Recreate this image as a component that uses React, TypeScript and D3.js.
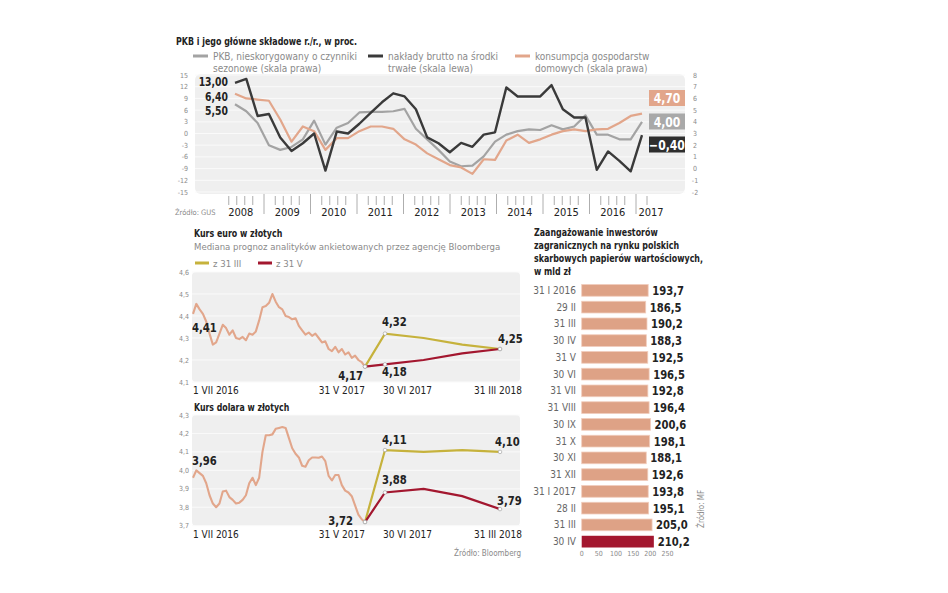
import * as d3 from 'd3';
import type { ReactNode } from 'react';

const FONT = "'Liberation Sans Narrow', 'DejaVu Sans Condensed', Roboto, sans-serif";

// PKB i składowe, kwartalnie od I kw. 2008 do I kw. 2017
const years = [2008, 2009, 2010, 2011, 2012, 2013, 2014, 2015, 2016, 2017];
const investment = [13.0, 14.0, 4.5, 5.0, -1.0, -4.5, -2.5, 0.0, -9.5, 0.5, 0.0, 2.5, 5.3, 8.0, 10.3, 9.5, 6.2, -1.0,
  -2.5, -4.8, -2.4, -3.4, -0.3, 0.3, 11.8, 9.5, 9.5, 9.5, 12.4, 6.2, 4.1, 4.1, -9.3, -4.6, -7.0, -9.7, -0.4];
const gdp = [5.5, 4.9, 3.9, 2.0, 1.6, 1.85, 2.5, 4.1, 2.05, 3.5, 3.9, 4.8, 4.85, 4.85, 4.9, 5.1, 3.4, 2.5,
  1.6, 0.6, 0.2, 0.25, 1.05, 2.3, 2.9, 3.2, 3.35, 3.3, 3.7, 3.35, 3.6, 4.55, 2.9, 2.9, 2.5, 2.5, 4.0];
const consumption = [6.4, 6.0, 5.9, 5.8, 4.2, 2.3, 3.6, 3.2, 1.6, 2.6, 2.6, 3.2, 3.6, 3.6, 3.4, 2.5, 2.05, 1.3,
  0.8, 0.3, 0.1, -0.45, 0.8, 0.75, 2.4, 2.9, 2.2, 2.5, 2.9, 3.2, 3.35, 3.2, 3.35, 3.4, 3.9, 4.5, 4.7];
const leftTicks = [-15, -12, -9, -6, -3, 0, 3, 6, 9, 12, 15];
const rightTicks = [-2, -1, 0, 1, 2, 3, 4, 5, 6, 7, 8];

// kursy walut, 1 VII 2016 - 31 V 2017 (równe odstępy)
const eurHistory = [4.41, 4.455, 4.43, 4.41, 4.375, 4.32, 4.27, 4.28, 4.32, 4.36, 4.345, 4.315, 4.335, 4.30, 4.295,
  4.305, 4.29, 4.32, 4.315, 4.33, 4.38, 4.44, 4.445, 4.46, 4.50, 4.465, 4.44, 4.43, 4.40, 4.395, 4.385, 4.39,
  4.355, 4.335, 4.315, 4.325, 4.31, 4.32, 4.30, 4.28, 4.285, 4.25, 4.24, 4.26, 4.235, 4.25, 4.225, 4.235, 4.21,
  4.22, 4.20, 4.19, 4.17];
const usdHistory = [3.96, 4.00, 3.985, 3.97, 3.93, 3.865, 3.82, 3.80, 3.82, 3.885, 3.89, 3.855, 3.84, 3.82, 3.825,
  3.84, 3.865, 3.93, 3.96, 3.92, 3.96, 4.10, 4.19, 4.19, 4.195, 4.225, 4.23, 4.235, 4.23, 4.175, 4.12, 4.09,
  4.07, 4.025, 4.02, 4.055, 4.07, 4.07, 4.068, 4.075, 4.05, 3.97, 3.945, 3.975, 3.975, 3.92, 3.89, 3.88, 3.86,
  3.81, 3.76, 3.735, 3.72];
const forecastDates = ['2017-05-31', '2017-06-30', '2017-09-30', '2017-12-31', '2018-03-31'];
const eurMarch = [4.17, 4.32, 4.30, 4.27, 4.25];
const eurMay = [4.17, 4.18, 4.20, 4.23, 4.25];
const usdMarch = [3.72, 4.11, 4.10, 4.11, 4.10];
const usdMay = [3.72, 3.88, 3.90, 3.86, 3.79];
const axisDates = ['2016-07-01', '2017-05-31', '2017-06-30', '2018-03-31'];
const axisLabels = ['1 VII 2016', '31 V 2017', '30 VI 2017', '31 III 2018'];
const eurTicks = [4.1, 4.2, 4.3, 4.4, 4.5, 4.6];
const usdTicks = [3.7, 3.8, 3.9, 4.0, 4.1, 4.2, 4.3];

// zaangażowanie inwestorów zagranicznych, mld zł
const debtDates = ['31 I 2016', '29 II', '31 III', '30 IV', '31 V', '30 VI', '31 VII', '31 VIII', '30 IX', '31 X',
  '30 XI', '31 XII', '31 I 2017', '28 II', '31 III ', '30 IV '];
const debtValues = [193.7, 186.5, 190.2, 188.3, 192.5, 196.5, 192.8, 196.4, 200.6, 198.1, 188.1, 192.6, 193.8, 195.1,
  205.0, 210.2];
const debtTicks = [0, 50, 100, 150, 200, 250];

const C = {
  dark: '#3a3a3a',
  gray: '#a3a3a3',
  salmon: '#e2a68b',
  olive: '#c6b23c',
  red: '#a3172f',
  bg: '#efefef',
  text: '#222',
  muted: '#8a8a8a',
};

const parse = d3.timeParse('%Y-%m-%d');
const comma = (f: string) => (v: number) => d3.format(f)(v).replace('.', ',');
const f1 = comma('.1f');
const f2 = comma('.2f');

// wąski tekst (krój w oryginale jest zwężony)
function Txt(p: { x: number; y: number; sx?: number; size: number; bold?: boolean; fill?: string; anchor?: string; children: ReactNode }) {
  return (
    <text transform={`translate(${p.x},${p.y}) scale(${p.sx ?? 0.86},1)`} textAnchor={p.anchor ?? 'start'}
      fontSize={p.size} fontWeight={p.bold ? 'bold' : 'normal'} fill={p.fill ?? C.text}>{p.children}</text>
  );
}

const tx = d3.scaleTime()
  .domain(axisDates.map(d => parse(d)!))
  .range([193, 365, 385, 500]);
const histTime = (n: number) => d3.scaleLinear().domain([0, n - 1]).range([+parse(axisDates[0])!, +parse(axisDates[1])!]);

type Lbl = { v: number; idx: number; dx: number; dy: number; anchor: string };

function FxPanel(props: {
  top: number; bottom: number; ticks: number[]; history: number[]; march: number[]; may: number[];
  histDy: number; labels: Lbl[];
}) {
  const { top, bottom, ticks, history, march, may } = props;
  const y = d3.scaleLinear().domain([ticks[0], ticks[ticks.length - 1]]).range([bottom, top]);
  const ht = histTime(history.length);
  const histLine = d3.line<number>().x((_, i) => tx(new Date(ht(i)))).y(d => y(d));
  const fLine = d3.line<number>().x((_, i) => tx(parse(forecastDates[i])!)).y(d => y(d));
  return (
    <g>
      <rect x={192} y={top} width={328} height={bottom - top} rx={4} fill={C.bg} />
      {ticks.map(t => (
        <g key={t}>
          <line x1={192} x2={520} y1={y(t)} y2={y(t)} stroke="#fafafa" strokeWidth={1} />
          <text x={189} y={y(t) + 2.5} textAnchor="end" fontSize={7} fill={C.muted}>{f1(t)}</text>
        </g>
      ))}
      <path d={histLine(history)!} fill="none" stroke={C.salmon} strokeWidth={2.1} strokeLinejoin="round" />
      <path d={fLine(march)!} fill="none" stroke={C.olive} strokeWidth={2.2} />
      <path d={fLine(may)!} fill="none" stroke={C.red} strokeWidth={2.2} />
      {[...march, ...may].map((v, i) => (
        [0, 1, 4].includes(i % 5) ? (
          <circle key={i} cx={tx(parse(forecastDates[i % 5])!)} cy={y(v)} r={1.8} fill="#fff" stroke="#999" strokeWidth={0.6} />
        ) : null
      ))}
      <Txt x={tx(parse(axisDates[0])!) - 1} y={y(history[0]) + props.histDy} size={13} bold>{f2(history[0])}</Txt>
      {props.labels.map((l, i) => (
        <Txt key={i} x={tx(parse(forecastDates[l.idx])!) + l.dx} y={y(l.v) + l.dy} anchor={l.anchor} size={13} bold>
          {f2(l.v)}
        </Txt>
      ))}
      {axisLabels.map((s, i) => (
        <text key={s} x={tx(parse(axisDates[i])!) + (i === 3 ? 22 : i === 2 ? -2 : 0)} y={bottom + 12}
          textAnchor={i === 0 || i === 2 ? 'start' : 'end'} fontSize={10} fill={C.text}>{s}</text>
      ))}
    </g>
  );
}

export default function App() {
  // górny wykres
  const xQ = d3.scaleLinear().domain([0, investment.length - 1]).range([235, 642]);
  const xYear = d3.scaleLinear().domain([2008, 2017]).range([217.5, 636]);
  const yL = d3.scaleLinear().domain([-15, 15]).range([192, 75]);
  const yR = d3.scaleLinear().domain([-2, 8]).range([192, 75]);
  const lineL = d3.line<number>().x((_, i) => xQ(i)).y(d => yL(d));
  const lineR = d3.line<number>().x((_, i) => xQ(i)).y(d => yR(d));

  // słupki
  const yB = d3.scaleBand().domain(debtDates).range([284.5, 547.5]).paddingInner(0.3);
  const xB = d3.scaleLinear().domain([0, 250]).range([581.7, 667.5]);

  const endBoxes = [
    { v: consumption[consumption.length - 1], fill: C.salmon, y: 90 },
    { v: gdp[gdp.length - 1], fill: '#a9a9a9', y: 113.5 },
    { v: investment[investment.length - 1], fill: '#2e2e2e', y: 136.5 },
  ];

  return (
    <svg width={948} height={593} style={{ position: 'absolute', left: 0, top: 0, background: '#fff' }}
      fontFamily={FONT}>
      {/* PKB */}
      <Txt x={176} y={45} size={10.5} sx={0.84} bold>PKB i jego główne składowe r./r., w proc.</Txt>
      {[
        { c: C.gray, x: 193, l1: 'PKB, nieskorygowany o czynniki', l2: 'sezonowe (skala prawa)' },
        { c: C.dark, x: 368, l1: 'nakłady brutto na środki', l2: 'trwałe (skala lewa)' },
        { c: C.salmon, x: 515, l1: 'konsumpcja gospodarstw', l2: 'domowych (skala prawa)' },
      ].map(d => (
        <g key={d.l1}>
          <line x1={d.x} x2={d.x + 15} y1={56} y2={56} stroke={d.c} strokeWidth={3} />
          <text x={d.x + 20} y={59.5} fontSize={10} fill={C.muted}>{d.l1}</text>
          <text x={d.x + 20} y={71.5} fontSize={10} fill={C.muted}>{d.l2}</text>
        </g>
      ))}
      <rect x={195} y={74} width={490} height={120} rx={6} fill={C.bg} />
      {leftTicks.map(t => (
        <g key={t}>
          <line x1={195} x2={685} y1={yL(t)} y2={yL(t)} stroke="#fafafa" strokeWidth={1} />
          <text x={188} y={yL(t) + 2.5} textAnchor="end" fontSize={7} fill={C.muted}>{t}</text>
        </g>
      ))}
      {rightTicks.map(t => (
        <text key={t} x={695} y={yR(t) + 2.5} textAnchor="middle" fontSize={7} fill={C.muted}>{t}</text>
      ))}
      <path d={lineR(gdp)!} fill="none" stroke={C.gray} strokeWidth={2.2} strokeLinejoin="round" />
      <path d={lineR(consumption)!} fill="none" stroke={C.salmon} strokeWidth={2.2} strokeLinejoin="round" />
      <path d={lineL(investment)!} fill="none" stroke={C.dark} strokeWidth={2.4} strokeLinejoin="round" />
      <Txt x={xQ(0) - 7} y={yL(investment[0]) + 3.5} anchor="end" size={12} bold>{f2(investment[0])}</Txt>
      <Txt x={xQ(0) - 7} y={yR(consumption[0]) + 7} anchor="end" size={12} bold>{f2(consumption[0])}</Txt>
      <Txt x={xQ(0) - 7} y={yR(gdp[0]) + 11} anchor="end" size={12} bold>{f2(gdp[0])}</Txt>
      {endBoxes.map(b => (
        <g key={b.fill}>
          <rect x={649} y={b.y} width={36} height={16} fill={b.fill} />
          <Txt x={667} y={b.y + 13} anchor="middle" size={14} bold fill="#fff">{f2(b.v)}</Txt>
        </g>
      ))}
      {years.map(yr => (
        <g key={yr}>
          {yr > 2008 && <line x1={xYear(yr)} x2={xYear(yr)} y1={194} y2={214} stroke="#999" strokeWidth={0.8} />}
          {(yr < 2017 ? [-12, -4, 4, 12] : [11]).map(o => {
            const cx = yr < 2017 ? xYear(yr + 0.5) : xYear(yr);
            return <line key={o} x1={cx + o} x2={cx + o} y1={196} y2={205} stroke="#999" strokeWidth={0.8} />;
          })}
          <text x={yr < 2017 ? xYear(yr + 0.5) : xYear(yr) + 15} y={216} textAnchor="middle" fontSize={11} fill={C.text}>{yr}</text>
        </g>
      ))}
      <text x={175} y={215} fontSize={7.5} fill={C.muted}>Źródło: GUS</text>

      {/* Kurs euro */}
      <Txt x={194} y={237} size={10} sx={0.88} bold>Kurs euro w złotych</Txt>
      <text x={194} y={250} fontSize={9.5} fill={C.muted}>Mediana prognoz analityków ankietowanych przez agencję Bloomberga</text>
      <line x1={195} x2={209} y1={263} y2={263} stroke={C.olive} strokeWidth={3} />
      <text x={213} y={266.5} fontSize={9.5} fill={C.muted}>z 31 III</text>
      <line x1={258} x2={272} y1={263} y2={263} stroke={C.red} strokeWidth={3} />
      <text x={276} y={266.5} fontSize={9.5} fill={C.muted}>z 31 V</text>
      <FxPanel top={272} bottom={382} ticks={eurTicks} history={eurHistory} march={eurMarch} may={eurMay}
        histDy={18}
        labels={[
          { v: eurMarch[0], idx: 0, dx: -2, dy: 13, anchor: 'end' },
          { v: eurMay[1], idx: 1, dx: -3, dy: 12, anchor: 'start' },
          { v: eurMarch[1], idx: 1, dx: -3, dy: -8, anchor: 'start' },
          { v: eurMarch[4], idx: 4, dx: -2, dy: -6, anchor: 'start' },
        ]} />

      {/* Kurs dolara */}
      <Txt x={194} y={410.5} size={10} sx={0.87} bold>Kurs dolara w złotych</Txt>
      <FxPanel top={415} bottom={525.7} ticks={usdTicks} history={usdHistory} march={usdMarch} may={usdMay}
        histDy={-13}
        labels={[
          { v: usdMarch[0], idx: 0, dx: -12, dy: 3, anchor: 'end' },
          { v: usdMarch[1], idx: 1, dx: -3, dy: -6, anchor: 'start' },
          { v: usdMarch[4], idx: 4, dx: -5, dy: -6, anchor: 'start' },
          { v: usdMay[1], idx: 1, dx: -3, dy: -8, anchor: 'start' },
          { v: usdMay[4], idx: 4, dx: -3, dy: -4, anchor: 'start' },
        ]} />
      <text x={521} y={556} textAnchor="end" fontSize={8} fill={C.muted}>Źródło: Bloomberg</text>

      {/* Zaangażowanie inwestorów */}
      {['Zaangażowanie inwestorów', 'zagranicznych na rynku polskich', 'skarbowych papierów wartościowych,', 'w mld zł'].map((s, i) => (
        <Txt key={s} x={534} y={236 + i * 13} size={10} sx={0.88} bold>{s}</Txt>
      ))}
      {debtDates.map((d, i) => (
        <g key={d}>
          <rect x={xB(0)} y={yB(d)!} width={xB(debtValues[i]) - xB(0)} height={yB.bandwidth()}
            fill={i === debtDates.length - 1 ? C.red : '#dea286'} stroke={i === debtDates.length - 1 ? 'none' : '#f1cdbd'} strokeWidth={0.8} />
          <text x={576} y={yB(d)! + yB.bandwidth() / 2 + 3.5} textAnchor="end" fontSize={10} fill="#666">{d.trim()}</text>
          <Txt x={xB(debtValues[i]) + 4} y={yB(d)! + yB.bandwidth() / 2 + 4.5} size={13} bold>{f1(debtValues[i])}</Txt>
        </g>
      ))}
      {debtTicks.map(t => (
        <text key={t} x={xB(t)} y={556} textAnchor="middle" fontSize={7} fill={C.muted}>{t}</text>
      ))}
      <text transform="translate(704,528) rotate(-90)" fontSize={8} fill={C.muted}>Źródło: MF</text>
    </svg>
  );
}
